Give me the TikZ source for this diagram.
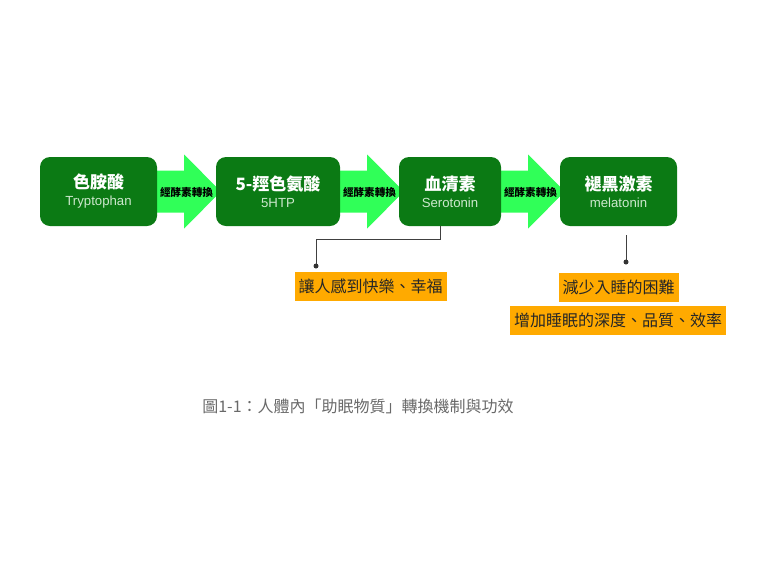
\documentclass[tikz,border=0pt]{standalone}
\usepackage{fontspec}
\setmainfont{Noto Sans CJK TC}
\newfontfamily\latinfont{Liberation Sans}
\usetikzlibrary{backgrounds}

\definecolor{boxgreen}{RGB}{11,122,20}
\definecolor{flowgreen}{RGB}{48,255,88}
\definecolor{notegold}{RGB}{255,170,0}
\definecolor{subwhite}{RGB}{205,232,205}
\definecolor{captiongray}{RGB}{105,105,105}

\tikzset{
  substance/.style={fill=boxgreen, rounded corners=10pt, minimum height=69pt,
    text=white, align=center, inner sep=0pt},
  enzyme/.style={font=\fontsize{10.6}{12}\selectfont\bfseries, text=black, inner sep=0pt},
  effect/.style={fill=notegold, text=black!85, font=\fontsize{16}{18}\selectfont,
    minimum height=29pt, inner xsep=4pt, inner ysep=0pt},
  link/.style={draw=black!75, line width=0.8pt}
}

% name (big) and latin name (small) inside a green box
\newcommand{\boxtext}[2]{{\fontsize{17}{19}\selectfont\bfseries #1}\\[5pt]
  {\latinfont\fontsize{13.2}{15}\selectfont\color{subwhite}#2}}

% fat green arrow between two boxes
\newcommand{\convarrow}[2]{%
  \fill[flowgreen] ([shift={(-5,-21)}]#1.east) -- ([shift={(27,-21)}]#1.east)
    -- ([shift={(27,-37)}]#1.east) -- ([xshift=5]#2.west)
    -- ([shift={(27,37)}]#1.east) -- ([shift={(27,21)}]#1.east)
    -- ([shift={(-5,21)}]#1.east) -- cycle;}

\begin{document}
\begin{tikzpicture}[x=1pt, y=-1pt]
    \useasboundingbox (0,0) rectangle (768,574);

    % The four substances
    \node[substance, minimum width=117pt] (trp) at (98.5,191.5) {\boxtext{色胺酸}{Tryptophan}};
    \node[substance, minimum width=124pt] (htp) at (278,191.5) {\boxtext{5-羥色氨酸}{5HTP}};
    \node[substance, minimum width=102pt] (ser) at (450,191.5) {\boxtext{血清素}{Serotonin}};
    \node[substance, minimum width=117pt] (mel) at (618.5,191.5) {\boxtext{褪黑激素}{melatonin}};

    % Conversion arrows, behind the boxes
    \begin{scope}[on background layer]
        \convarrow{trp}{htp}
        \convarrow{htp}{ser}
        \convarrow{ser}{mel}
    \end{scope}
    \node[enzyme] (e1) at (186.5,192) {經酵素轉換};
    \node[enzyme] (e2) at (369.5,192) {經酵素轉換};
    \node[enzyme] (e3) at (530.5,192) {經酵素轉換};

    % Effects of serotonin
    \coordinate (sdot) at (316,266);
    \draw[link] ([xshift=-10]ser.south) -- ++(0,13) -| (sdot);
    \fill[black!80] (sdot) circle (2.5);
    \node[effect] (happy) at (370.5,286.5) {讓人感到快樂、幸福};

    % Effects of melatonin
    \coordinate (mtop) at (626,235);
    \coordinate (mdot) at (626,262);
    \draw[link] (mtop) -- (mdot);
    \fill[black!80] (mdot) circle (2.5);
    \node[effect] (sleep) at (618.5,287) {減少入睡的困難};
    \node[effect] (depth) at (618,320) {增加睡眠的深度、品質、效率};

    % Caption
    \node[text=captiongray, font=\fontsize{16}{18}\selectfont] (cap) at (358,406)
        {圖1-1：人體內「助眠物質」轉換機制與功效};
\end{tikzpicture}
\end{document}
